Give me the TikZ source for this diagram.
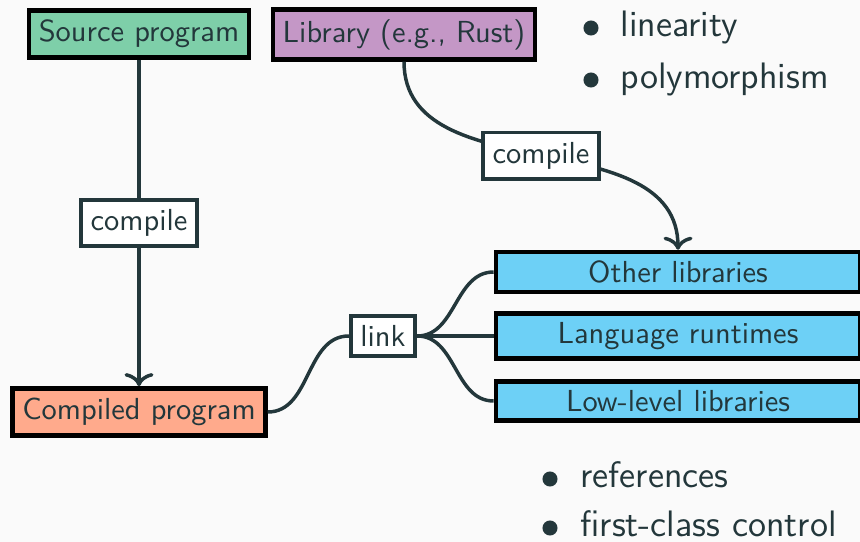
\documentclass[tikz,border=0pt]{standalone}
\usetikzlibrary{arrows.meta}
\renewcommand{\familydefault}{\sfdefault}

\definecolor{fg}{HTML}{23373B}
\definecolor{bg}{HTML}{FAFAFA}
\definecolor{srcgreen}{HTML}{7ECFA9}
\definecolor{libpurple}{HTML}{C497C6}
\definecolor{outsalmon}{HTML}{FFAA8C}
\definecolor{depblue}{HTML}{6DD0F6}

\begin{document}
\begin{tikzpicture}[x=0.345pt,y=-0.345pt,
  font=\fontsize{10.5}{12.6}\selectfont, text=fg,
  colbox/.style={draw=black, line width=1.6pt, inner sep=0.3333em},
  labelbox/.style={draw=fg, fill=white, line width=1.3pt, inner sep=0.3333em},
  libbox/.style={colbox, fill=depblue, minimum width=125.6pt, inner ysep=3pt},
  wire/.style={draw=fg, line width=1.2pt},
  arrowwire/.style={wire, -{Computer Modern Rightarrow[length=4.5pt,width=10pt]}},
  bulletdot/.style={circle, fill=fg, inner sep=0pt, minimum size=5.2pt},
  bullettext/.style={anchor=base west, inner sep=0pt, font=\fontsize{12.7}{15}\selectfont}]

% canvas
\fill[bg] (0,0) rectangle (860,542);
\useasboundingbox (0,0) rectangle (860,542);

% boxes
\node[colbox, fill=srcgreen]   (src)   at (139,34)   {Source program};
\node[colbox, fill=libpurple]  (lib)   at (404,34.5) {Library (e.g., Rust)};
\node[colbox, fill=outsalmon]  (cp)    at (139,412)  {Compiled program};
\node[libbox]                  (other) at (678,272)  {Other libraries};
\node[libbox]                  (rt)    at (678,336)  {Language runtimes};
\node[libbox]                  (low)   at (678,401)  {Low-level libraries};
\node[labelbox]                (link)  at (383,336)  {link};

% compile steps
\draw[arrowwire] (src) -- node[labelbox] (c1) {compile} (cp);
\draw[arrowwire] (lib.south) to[out=-90,in=90] node[labelbox] (c2) {compile} (other.north);

% linking
\draw[wire] (cp.east) to[out=0,in=180] (link.west);
\foreach \t in {other,rt,low}
  \draw[wire] (link.east) to[out=0,in=180] (\t.west);

% feature lists
\node[bulletdot] (b1) at (591,28) {};
\node[bullettext] (t1) at (620,37) {linearity};
\node[bulletdot] (b2) at (591,80) {};
\node[bullettext] (t2) at (620,89) {polymorphism};
\node[bulletdot] (b3) at (550,479) {};
\node[bullettext] (t3) at (580,487) {references};
\node[bulletdot] (b4) at (550,528) {};
\node[bullettext] (t4) at (580,536) {first-class control};
\end{tikzpicture}
\end{document}
